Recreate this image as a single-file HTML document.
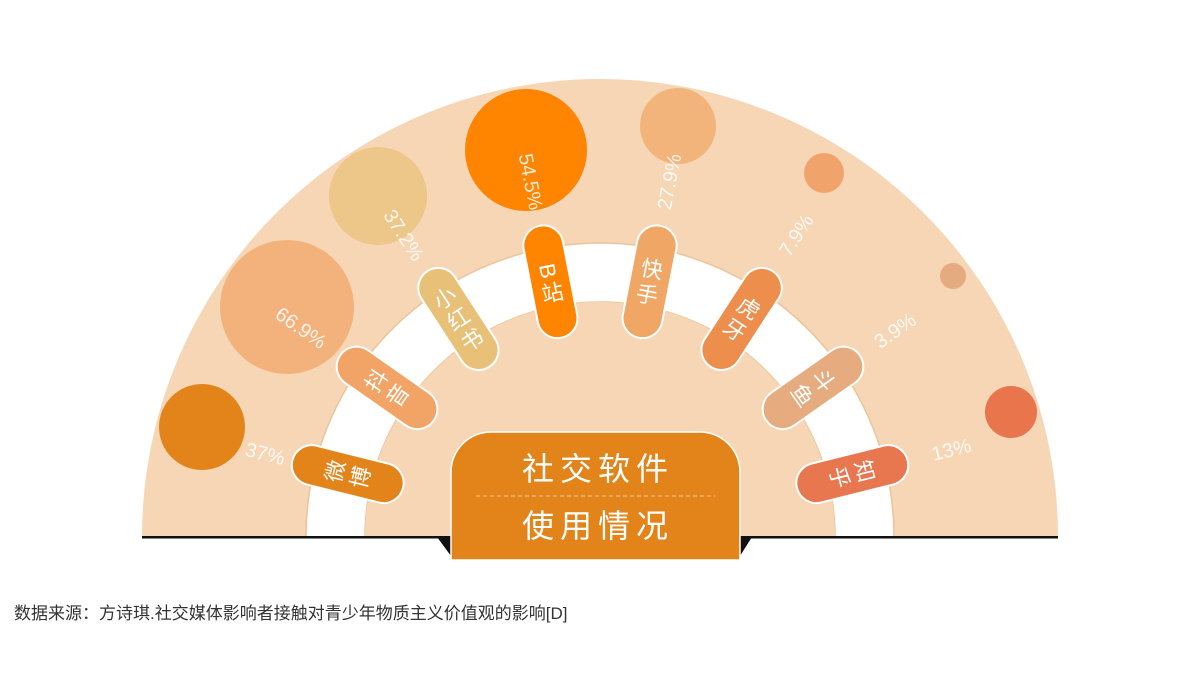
<!DOCTYPE html>
<html><head><meta charset="utf-8"><style>
html,body{margin:0;padding:0;background:#fff;width:1200px;height:681px;overflow:hidden}
svg{display:block}
.t{font-family:"Liberation Sans","Noto Sans CJK SC",sans-serif}
</style></head><body>
<svg width="1200" height="681" viewBox="0 0 1200 681" xmlns="http://www.w3.org/2000/svg" class="t">
<path d="M142,537 A458,458 0 0 1 1058,537 Z" fill="#F6D6B4"/>
<path d="M306,537 A294,294 0 0 1 894,537 L835,537 A235,235 0 0 0 365,537 Z" fill="#fff" stroke="#EDC39A" stroke-width="1.5"/>
<path d="M365,537 A235,235 0 0 1 835,537 Z" fill="#F6D6B4"/>
<circle cx="202" cy="427" r="43" fill="#E3841A"/>
<circle cx="287" cy="307" r="67" fill="#F3B27C"/>
<circle cx="378" cy="196" r="49" fill="#EDC689"/>
<circle cx="526" cy="150" r="61" fill="#FF8400"/>
<circle cx="678" cy="126" r="38" fill="#F2B47A"/>
<circle cx="824" cy="173" r="20" fill="#F0A46C"/>
<circle cx="953" cy="276" r="13" fill="#E5AA80"/>
<circle cx="1011" cy="412" r="26" fill="#E8754C"/>
<g fill="#fff" fill-opacity="0.85" font-size="20" text-anchor="middle">
<text transform="translate(600,537) rotate(14) translate(-345,0)" dy="7">37%</text>
<text transform="translate(600,537) rotate(35) translate(-365,0)" dy="7">66.9%</text>
<text transform="translate(600,537) rotate(57) translate(-360,0)" dy="7">37.2%</text>
<text transform="translate(600,537) rotate(79) translate(-362,0)" dy="7">54.5%</text>
<text transform="translate(600,537) rotate(101) translate(-362,0) rotate(180)" dy="7">27.9%</text>
<text transform="translate(600,537) rotate(123) translate(-360,0) rotate(180)" dy="7">7.9%</text>
<text transform="translate(600,537) rotate(145) translate(-360,0) rotate(180)" dy="7">3.9%</text>
<text transform="translate(600,537) rotate(166) translate(-362,0) rotate(180)" dy="7">13%</text>
</g>
<rect x="142" y="536" width="916" height="2.5" fill="#111"/>
<path d="M437,537 L451,537 L451,556 Z" fill="#111"/>
<path d="M752,537 L740,537 L740,556 Z" fill="#111"/>
<g font-size="22" fill="#fff" text-anchor="middle" stroke-width="2">
<g transform="translate(600,537) rotate(14) translate(-260,0)"><rect x="-57" y="-20" width="114" height="40" rx="20" fill="#E3841A" stroke="#fff"/><text transform="translate(-13,0) rotate(-90)" dy="8" stroke="none">微</text><text transform="translate(13,0) rotate(-90)" dy="8" stroke="none">博</text></g>
<g transform="translate(600,537) rotate(35) translate(-260,0)"><rect x="-57" y="-20" width="114" height="40" rx="20" fill="#F2A466" stroke="#fff"/><text transform="translate(-13,0) rotate(-90)" dy="8" stroke="none">抖</text><text transform="translate(13,0) rotate(-90)" dy="8" stroke="none">音</text></g>
<g transform="translate(600,537) rotate(57) translate(-260,0)"><rect x="-57" y="-20" width="114" height="40" rx="20" fill="#E9C077" stroke="#fff"/><text transform="translate(-25,0) rotate(-90)" dy="8" stroke="none">小</text><text transform="translate(0,0) rotate(-90)" dy="8" stroke="none">红</text><text transform="translate(25,0) rotate(-90)" dy="8" stroke="none">书</text></g>
<g transform="translate(600,537) rotate(79) translate(-260,0)"><rect x="-57" y="-20" width="114" height="40" rx="20" fill="#FF8400" stroke="#fff"/><text transform="translate(-11,0)" dy="8" stroke="none">B</text><text transform="translate(11,0) rotate(-90)" dy="8" stroke="none">站</text></g>
<g transform="translate(600,537) rotate(101) translate(-260,0)"><rect x="-57" y="-20" width="114" height="40" rx="20" fill="#F0A664" stroke="#fff"/><text transform="translate(-13,0) rotate(-90)" dy="8" stroke="none">快</text><text transform="translate(13,0) rotate(-90)" dy="8" stroke="none">手</text></g>
<g transform="translate(600,537) rotate(123) translate(-260,0)"><rect x="-57" y="-20" width="114" height="40" rx="20" fill="#EE8E4C" stroke="#fff"/><text transform="translate(-13,0) rotate(-90)" dy="8" stroke="none">虎</text><text transform="translate(13,0) rotate(-90)" dy="8" stroke="none">牙</text></g>
<g transform="translate(600,537) rotate(145) translate(-260,0)"><rect x="-57" y="-20" width="114" height="40" rx="20" fill="#E6AB7E" stroke="#fff"/><text transform="translate(-13,0) rotate(-90)" dy="8" stroke="none">斗</text><text transform="translate(13,0) rotate(-90)" dy="8" stroke="none">鱼</text></g>
<g transform="translate(600,537) rotate(166) translate(-260,0)"><rect x="-57" y="-20" width="114" height="40" rx="20" fill="#E8764E" stroke="#fff"/><text transform="translate(-13,0) rotate(-90)" dy="8" stroke="none">知</text><text transform="translate(13,0) rotate(-90)" dy="8" stroke="none">乎</text></g>
</g>
<path d="M451,560 L451,472 A40,40 0 0 1 491,432 L700,432 A40,40 0 0 1 740,472 L740,560 Z" fill="#E3841A" stroke="#fff" stroke-width="1.5"/>
<line x1="476" y1="496" x2="715" y2="496" stroke="#F6C792" stroke-width="1" stroke-dasharray="4,3"/>
<text x="598" y="480" font-size="32" fill="#fff" text-anchor="middle" letter-spacing="6">社交软件</text>
<text x="598" y="537" font-size="32" fill="#fff" text-anchor="middle" letter-spacing="6">使用情况</text>
<text x="14" y="619" font-size="17" fill="#333">数据来源：方诗琪.社交媒体影响者接触对青少年物质主义价值观的影响[D]</text>
</svg>
</body></html>
